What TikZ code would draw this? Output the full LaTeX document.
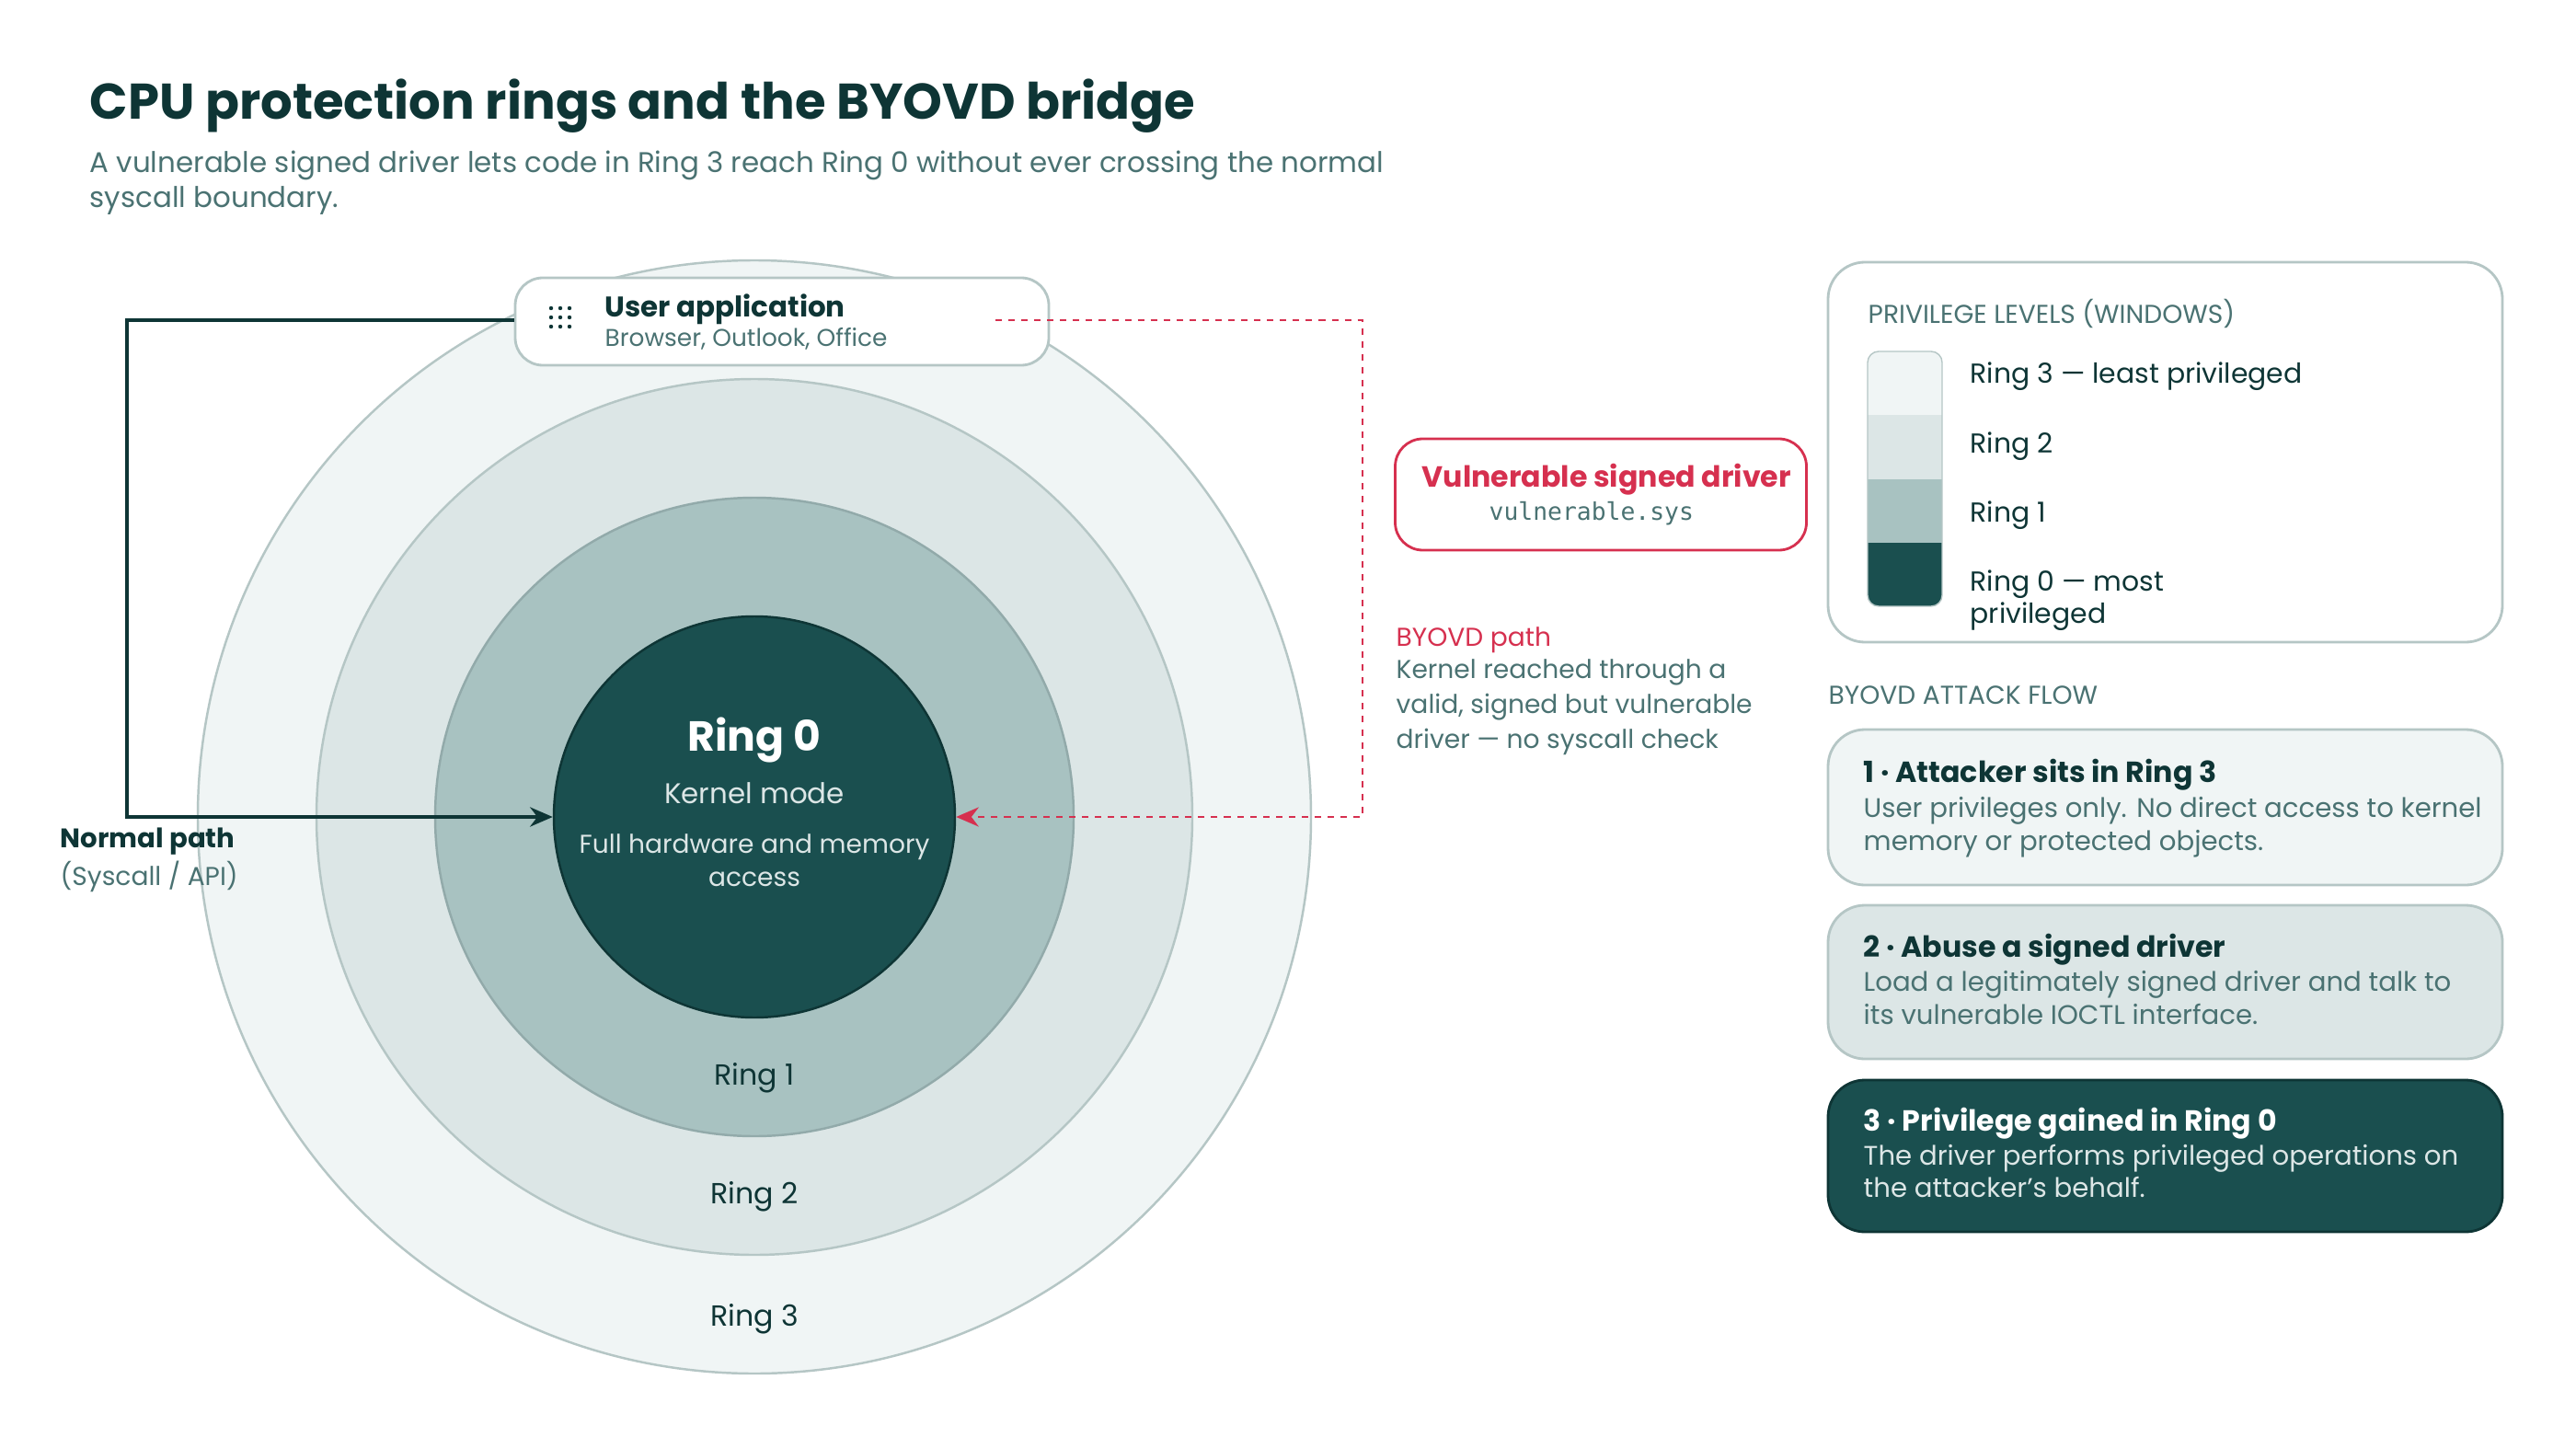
\documentclass[tikz,border=0pt]{standalone}
\usepackage{fontspec}
\setmainfont{Poppins}
\setmonofont{DejaVu Sans Mono}
\usetikzlibrary{arrows.meta,positioning}
\definecolor{teal0}{HTML}{1A4F4F}
\definecolor{teal1}{HTML}{A8C2C1}
\definecolor{teal2}{HTML}{DCE6E6}
\definecolor{teal3}{HTML}{F0F5F5}
\definecolor{ink}{HTML}{0E3535}
\definecolor{muted}{HTML}{4A7272}
\definecolor{edge}{HTML}{B5C6C5}
\definecolor{alert}{HTML}{D6304F}
\tikzset{
  ring/.style={circle, draw=#1, line width=0.7pt, inner sep=0pt},
  txt/.style={inner sep=0pt, anchor=west, text=ink, font=\fontsize{8.5}{10}\selectfont},
  small/.style={txt, text=muted, font=\fontsize{7.5}{9}\selectfont},
  card/.style={draw=edge, line width=0.8pt, rounded corners=0.4cm},
  stephead/.style={txt, font=\fontsize{9}{10}\selectfont\bfseries},
  body/.style={txt, text=muted, font=\fontsize{8.3}{10}\selectfont},
}
\begin{document}
\begin{tikzpicture}
  \useasboundingbox[fill=white] (0,0) rectangle (28,-15.62);

  % title
  \node[txt, font=\fontsize{15.5}{18}\selectfont\bfseries] (title) at (0.97,-1.15) {CPU protection rings and the BYOVD bridge};
  \node[txt, text=muted, font=\fontsize{8.8}{10.8}\selectfont, align=left, anchor=north west] (sub) at (0.97,-1.63)
    {A vulnerable signed driver lets code in Ring 3 reach Ring 0 without ever crossing the normal\\syscall boundary.};

  % rings
  \node[ring=edge, fill=teal3, minimum size=12.10cm] (ring3) at (8.20,-8.88) {};
  \node[ring=edge, fill=teal2, minimum size=9.52cm] (ring2) at (ring3.center) {};
  \node[ring=muted!60, fill=teal1, minimum size=6.94cm] (ring1) at (ring3.center) {};
  \node[ring=ink, fill=teal0, minimum size=4.36cm] (ring0) at (ring3.center) {};

  \node[text=white, font=\fontsize{13}{15}\selectfont\bfseries] (r0) at (8.20,-8.04) {Ring 0};
  \node[text=teal2, font=\fontsize{8.8}{10}\selectfont] (kmode) at (8.20,-8.62) {Kernel mode};
  \node[text=teal2, font=\fontsize{8}{10.2}\selectfont, align=center] (full) at (8.20,-9.35) {Full hardware and memory\\access};
  \node[text=ink, font=\fontsize{9}{10}\selectfont] (l1) at (8.20,-11.72) {Ring 1};
  \node[text=ink, font=\fontsize{9}{10}\selectfont] (l2) at (8.20,-13.01) {Ring 2};
  \node[text=ink, font=\fontsize{9}{10}\selectfont] (l3) at (8.20,-14.34) {Ring 3};

  % user application
  \node[card, fill=white, rounded corners=0.3cm, minimum width=5.80cm, minimum height=0.95cm] (app) at (8.50,-3.495) {};
  \foreach \i in {0,1,2} \foreach \j in {0,1,2}
    \fill[ink] (5.99+0.1*\i,-3.35-0.1*\j) circle (0.022);
  \node[txt, font=\fontsize{8.8}{10}\selectfont\bfseries] (apptitle) at (6.57,-3.36) {User application};
  \node[small, font=\fontsize{7.5}{9}\selectfont] (appsub) at (6.57,-3.68) {Browser, Outlook, Office};

  % paths
  \coordinate (nbend) at (1.38,-3.48);
  \coordinate (rstart) at (10.82,-3.48);
  \coordinate (rbend) at (14.81,-3.48);
  \draw[ink, line width=1.3pt, -{Stealth[length=7pt,width=6pt]}] (app.west |- nbend) -- (nbend) |- (ring0.west);
  \draw[alert, line width=0.8pt, dash pattern=on 2pt off 2pt, -{Stealth[length=7pt,width=6pt]}] (rstart) -- (rbend) |- (ring0.east);
  \node[txt, font=\fontsize{8.3}{10}\selectfont\bfseries] (npath) at (0.65,-9.15) {Normal path};
  \node[small, font=\fontsize{8}{10}\selectfont] (nsub) at (0.65,-9.53) {(Syscall / API)};

  % driver
  \node[draw=alert, line width=0.8pt, fill=white, rounded corners=0.3cm, minimum width=4.47cm, minimum height=1.21cm] (drv) at (17.40,-5.375) {};
  \node[txt, text=alert, font=\fontsize{9}{10}\selectfont\bfseries] (drvtitle) at (15.45,-5.21) {Vulnerable signed driver};
  \node[txt, text=muted, font=\ttfamily\fontsize{7.5}{9}\selectfont] (drvsys) at (16.18,-5.58) {vulnerable.sys};
  \node[txt, text=alert, font=\fontsize{8}{10}\selectfont] (bpath) at (15.17,-6.96) {BYOVD path};
  \node[small, font=\fontsize{8}{10.75}\selectfont, align=left, anchor=north west] (bsub) at (15.17,-7.16)
    {Kernel reached through a\\valid, signed but vulnerable\\driver — no syscall check};

  % legend
  \draw[card, fill=white] (19.87,-2.85) rectangle (27.20,-6.98);
  \node[small, font=\fontsize{8}{10}\selectfont] (legtitle) at (20.30,-3.41) {PRIVILEGE LEVELS (WINDOWS)};
  \begin{scope}
    \clip[rounded corners=0.12cm] (20.30,-3.82) rectangle (21.11,-6.59);
    \foreach \c [count=\k from 0] in {teal3,teal2,teal1,teal0}
      \fill[\c] (20.30,-3.82-0.6925*\k) rectangle (21.11,-3.82-0.6925*\k-0.6925);
  \end{scope}
  \draw[edge, rounded corners=0.12cm] (20.30,-3.82) rectangle (21.11,-6.59);
  \node[txt] (lg3) at (21.41,-4.09) {Ring 3 — least privileged};
  \node[txt] (lg2) at (21.41,-4.85) {Ring 2};
  \node[txt] (lg1) at (21.41,-5.60) {Ring 1};
  \node[txt, align=left] (lg0) at (21.41,-6.53) {Ring 0 — most\\privileged};

  % attack flow
  \node[small, font=\fontsize{8}{10}\selectfont] (flow) at (19.87,-7.56) {BYOVD ATTACK FLOW};
  \draw[card, fill=teal3] (19.87,-7.93) rectangle (27.20,-9.62);
  \draw[card, fill=teal2] (19.87,-9.84) rectangle (27.20,-11.51);
  \draw[ink, line width=0.8pt, rounded corners=0.4cm, fill=teal0] (19.87,-11.74) rectangle (27.20,-13.39);
  \node[stephead] (s1) at (20.25,-8.42) {1 · Attacker sits in Ring 3};
  \node[body, align=left, anchor=north west] (b1) at (20.25,-8.66) {User privileges only. No direct access to kernel\\memory or protected objects.};
  \node[stephead] (s2) at (20.25,-10.32) {2 · Abuse a signed driver};
  \node[body, align=left, anchor=north west] (b2) at (20.25,-10.55) {Load a legitimately signed driver and talk to\\its vulnerable IOCTL interface.};
  \node[stephead, text=white] (s3) at (20.25,-12.21) {3 · Privilege gained in Ring 0};
  \node[body, text=teal2, align=left, anchor=north west] (b3) at (20.25,-12.43) {The driver performs privileged operations on\\the attacker's behalf.};
\end{tikzpicture}
\end{document}
